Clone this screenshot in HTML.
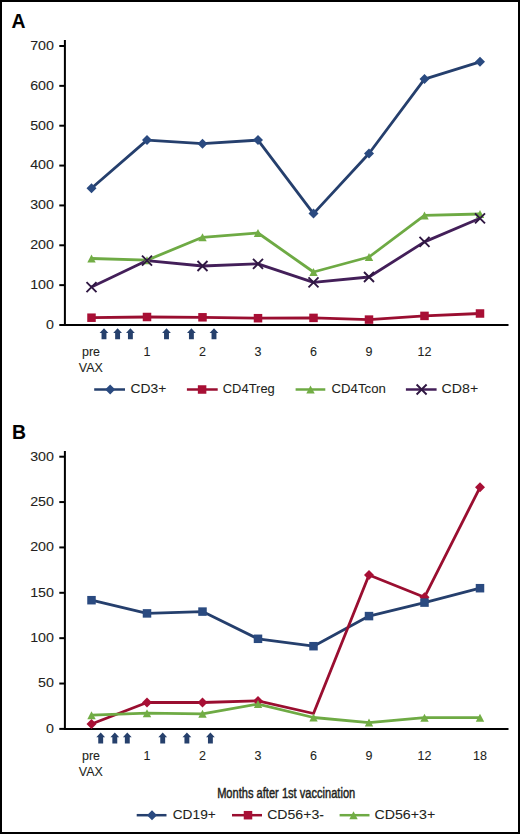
<!DOCTYPE html>
<html><head><meta charset="utf-8"><title>Figure</title>
<style>
html,body{margin:0;padding:0;background:#fff;}
body{width:520px;height:834px;overflow:hidden;}
.fig{position:relative;width:516px;height:830px;border:2px solid #000;background:#fff;}
svg{position:absolute;left:-2px;top:-2px;font-family:"Liberation Sans",sans-serif;fill:#231f20;}
text{stroke:#231f20;stroke-width:0.08px;}
.bold{stroke-width:0.5px;}
</style></head>
<body><div class="fig">
<svg width="520" height="834" viewBox="0 0 520 834">
<line x1="64.9" y1="40" x2="64.9" y2="326" stroke="#000" stroke-width="2"/>
<line x1="63.900000000000006" y1="325" x2="508.5" y2="325" stroke="#000" stroke-width="2"/>
<line x1="59.3" y1="325.00" x2="64.9" y2="325.00" stroke="#000" stroke-width="2"/>
<text transform="translate(53.90 328.85) scale(1.0800 1)" font-size="13.2" text-anchor="end" >0</text>
<line x1="59.3" y1="285.14" x2="64.9" y2="285.14" stroke="#000" stroke-width="2"/>
<text transform="translate(53.90 288.99) scale(1.0800 1)" font-size="13.2" text-anchor="end" >100</text>
<line x1="59.3" y1="245.29" x2="64.9" y2="245.29" stroke="#000" stroke-width="2"/>
<text transform="translate(53.90 249.14) scale(1.0800 1)" font-size="13.2" text-anchor="end" >200</text>
<line x1="59.3" y1="205.43" x2="64.9" y2="205.43" stroke="#000" stroke-width="2"/>
<text transform="translate(53.90 209.28) scale(1.0800 1)" font-size="13.2" text-anchor="end" >300</text>
<line x1="59.3" y1="165.57" x2="64.9" y2="165.57" stroke="#000" stroke-width="2"/>
<text transform="translate(53.90 169.42) scale(1.0800 1)" font-size="13.2" text-anchor="end" >400</text>
<line x1="59.3" y1="125.71" x2="64.9" y2="125.71" stroke="#000" stroke-width="2"/>
<text transform="translate(53.90 129.56) scale(1.0800 1)" font-size="13.2" text-anchor="end" >500</text>
<line x1="59.3" y1="85.86" x2="64.9" y2="85.86" stroke="#000" stroke-width="2"/>
<text transform="translate(53.90 89.71) scale(1.0800 1)" font-size="13.2" text-anchor="end" >600</text>
<line x1="59.3" y1="46.00" x2="64.9" y2="46.00" stroke="#000" stroke-width="2"/>
<text transform="translate(53.90 49.85) scale(1.0800 1)" font-size="13.2" text-anchor="end" >700</text>
<polyline points="91.50,188.20 147.00,140.10 202.50,143.70 258.00,140.10 313.50,213.60 369.00,153.50 424.50,79.10 480.00,61.80" fill="none" stroke="#253f6d" stroke-width="2.8" stroke-linejoin="round" stroke-linecap="butt"/>
<polyline points="91.50,317.70 147.00,317.00 202.50,317.30 258.00,318.20 313.50,317.90 369.00,319.60 424.50,315.90 480.00,313.50" fill="none" stroke="#9a0e30" stroke-width="2.8" stroke-linejoin="round" stroke-linecap="butt"/>
<polyline points="91.50,258.50 147.00,260.20 202.50,237.30 258.00,233.00 313.50,272.00 369.00,257.00 424.50,215.40 480.00,214.00" fill="none" stroke="#6eaa44" stroke-width="2.8" stroke-linejoin="round" stroke-linecap="butt"/>
<polyline points="91.50,287.10 147.00,260.60 202.50,266.00 258.00,263.80 313.50,282.30 369.00,277.00 424.50,241.90 480.00,218.30" fill="none" stroke="#431f59" stroke-width="2.8" stroke-linejoin="round" stroke-linecap="butt"/>
<path d="M91.50 183.20L96.50 188.20L91.50 193.20L86.50 188.20Z" fill="#2a4a80"/>
<path d="M147.00 135.10L152.00 140.10L147.00 145.10L142.00 140.10Z" fill="#2a4a80"/>
<path d="M202.50 138.70L207.50 143.70L202.50 148.70L197.50 143.70Z" fill="#2a4a80"/>
<path d="M258.00 135.10L263.00 140.10L258.00 145.10L253.00 140.10Z" fill="#2a4a80"/>
<path d="M313.50 208.60L318.50 213.60L313.50 218.60L308.50 213.60Z" fill="#2a4a80"/>
<path d="M369.00 148.50L374.00 153.50L369.00 158.50L364.00 153.50Z" fill="#2a4a80"/>
<path d="M424.50 74.10L429.50 79.10L424.50 84.10L419.50 79.10Z" fill="#2a4a80"/>
<path d="M480.00 56.80L485.00 61.80L480.00 66.80L475.00 61.80Z" fill="#2a4a80"/>
<rect x="87.25" y="313.45" width="8.5" height="8.5" fill="#a80f35"/>
<rect x="142.75" y="312.75" width="8.5" height="8.5" fill="#a80f35"/>
<rect x="198.25" y="313.05" width="8.5" height="8.5" fill="#a80f35"/>
<rect x="253.75" y="313.95" width="8.5" height="8.5" fill="#a80f35"/>
<rect x="309.25" y="313.65" width="8.5" height="8.5" fill="#a80f35"/>
<rect x="364.75" y="315.35" width="8.5" height="8.5" fill="#a80f35"/>
<rect x="420.25" y="311.65" width="8.5" height="8.5" fill="#a80f35"/>
<rect x="475.75" y="309.25" width="8.5" height="8.5" fill="#a80f35"/>
<path d="M91.50 254.50L95.70 262.50L87.30 262.50Z" fill="#72ad45"/>
<path d="M147.00 256.20L151.20 264.20L142.80 264.20Z" fill="#72ad45"/>
<path d="M202.50 233.30L206.70 241.30L198.30 241.30Z" fill="#72ad45"/>
<path d="M258.00 229.00L262.20 237.00L253.80 237.00Z" fill="#72ad45"/>
<path d="M313.50 268.00L317.70 276.00L309.30 276.00Z" fill="#72ad45"/>
<path d="M369.00 253.00L373.20 261.00L364.80 261.00Z" fill="#72ad45"/>
<path d="M424.50 211.40L428.70 219.40L420.30 219.40Z" fill="#72ad45"/>
<path d="M480.00 210.00L484.20 218.00L475.80 218.00Z" fill="#72ad45"/>
<path d="M86.50 282.10L96.50 292.10M96.50 282.10L86.50 292.10" stroke="#2f1742" stroke-width="1.9" fill="none"/>
<path d="M142.00 255.60L152.00 265.60M152.00 255.60L142.00 265.60" stroke="#2f1742" stroke-width="1.9" fill="none"/>
<path d="M197.50 261.00L207.50 271.00M207.50 261.00L197.50 271.00" stroke="#2f1742" stroke-width="1.9" fill="none"/>
<path d="M253.00 258.80L263.00 268.80M263.00 258.80L253.00 268.80" stroke="#2f1742" stroke-width="1.9" fill="none"/>
<path d="M308.50 277.30L318.50 287.30M318.50 277.30L308.50 287.30" stroke="#2f1742" stroke-width="1.9" fill="none"/>
<path d="M364.00 272.00L374.00 282.00M374.00 272.00L364.00 282.00" stroke="#2f1742" stroke-width="1.9" fill="none"/>
<path d="M419.50 236.90L429.50 246.90M429.50 236.90L419.50 246.90" stroke="#2f1742" stroke-width="1.9" fill="none"/>
<path d="M475.00 213.30L485.00 223.30M485.00 213.30L475.00 223.30" stroke="#2f1742" stroke-width="1.9" fill="none"/>
<path d="M104.00 328.20L108.40 332.90L106.45 332.90L106.45 339.20L101.55 339.20L101.55 332.90L99.60 332.90Z" fill="#26406c"/>
<path d="M117.60 328.20L122.00 332.90L120.05 332.90L120.05 339.20L115.15 339.20L115.15 332.90L113.20 332.90Z" fill="#26406c"/>
<path d="M130.40 328.20L134.80 332.90L132.85 332.90L132.85 339.20L127.95 339.20L127.95 332.90L126.00 332.90Z" fill="#26406c"/>
<path d="M166.50 328.20L170.90 332.90L168.95 332.90L168.95 339.20L164.05 339.20L164.05 332.90L162.10 332.90Z" fill="#26406c"/>
<path d="M191.40 328.20L195.80 332.90L193.85 332.90L193.85 339.20L188.95 339.20L188.95 332.90L187.00 332.90Z" fill="#26406c"/>
<path d="M214.00 328.20L218.40 332.90L216.45 332.90L216.45 339.20L211.55 339.20L211.55 332.90L209.60 332.90Z" fill="#26406c"/>
<text x="91.00" y="356.20" font-size="12.5" text-anchor="middle" >pre</text>
<text x="90.90" y="371.50" font-size="12.5" text-anchor="middle" >VAX</text>
<text x="147.00" y="356.20" font-size="12.5" text-anchor="middle" >1</text>
<text x="202.50" y="356.20" font-size="12.5" text-anchor="middle" >2</text>
<text x="258.00" y="356.20" font-size="12.5" text-anchor="middle" >3</text>
<text x="313.50" y="356.20" font-size="12.5" text-anchor="middle" >6</text>
<text x="369.00" y="356.20" font-size="12.5" text-anchor="middle" >9</text>
<text x="424.50" y="356.20" font-size="12.5" text-anchor="middle" >12</text>
<line x1="94.2" y1="389.5" x2="125" y2="389.5" stroke="#253f6d" stroke-width="2.5"/>
<path d="M110.20 384.50L115.20 389.50L110.20 394.50L105.20 389.50Z" fill="#2a4a80"/>
<text transform="translate(130.40 393.40) scale(1.0710 1)" font-size="13" text-anchor="start" >CD3+</text>
<line x1="186.9" y1="389.5" x2="217.7" y2="389.5" stroke="#9a0e30" stroke-width="2.5"/>
<rect x="197.85" y="385.25" width="8.5" height="8.5" fill="#a80f35"/>
<text transform="translate(222.75 393.40) scale(0.9967 1)" font-size="13" text-anchor="start" >CD4Treg</text>
<line x1="295.6" y1="389.5" x2="325.3" y2="389.5" stroke="#6eaa44" stroke-width="2.5"/>
<path d="M310.50 385.50L314.70 393.50L306.30 393.50Z" fill="#72ad45"/>
<text transform="translate(331.54 393.40) scale(1.0160 1)" font-size="13" text-anchor="start" >CD4Tcon</text>
<line x1="405.9" y1="389.5" x2="436.6" y2="389.5" stroke="#431f59" stroke-width="2.5"/>
<path d="M416.60 384.50L426.60 394.50M426.60 384.50L416.60 394.50" stroke="#2f1742" stroke-width="1.9" fill="none"/>
<text transform="translate(441.54 393.40) scale(1.0912 1)" font-size="13" text-anchor="start" >CD8+</text>
<line x1="64.9" y1="451" x2="64.9" y2="730" stroke="#000" stroke-width="2"/>
<line x1="63.900000000000006" y1="728.9" x2="508.5" y2="728.9" stroke="#000" stroke-width="2"/>
<line x1="59.3" y1="728.90" x2="64.9" y2="728.90" stroke="#000" stroke-width="2"/>
<text transform="translate(53.90 732.75) scale(1.0800 1)" font-size="13.2" text-anchor="end" >0</text>
<line x1="59.3" y1="683.53" x2="64.9" y2="683.53" stroke="#000" stroke-width="2"/>
<text transform="translate(53.90 687.38) scale(1.0800 1)" font-size="13.2" text-anchor="end" >50</text>
<line x1="59.3" y1="638.17" x2="64.9" y2="638.17" stroke="#000" stroke-width="2"/>
<text transform="translate(53.90 642.02) scale(1.0800 1)" font-size="13.2" text-anchor="end" >100</text>
<line x1="59.3" y1="592.80" x2="64.9" y2="592.80" stroke="#000" stroke-width="2"/>
<text transform="translate(53.90 596.65) scale(1.0800 1)" font-size="13.2" text-anchor="end" >150</text>
<line x1="59.3" y1="547.43" x2="64.9" y2="547.43" stroke="#000" stroke-width="2"/>
<text transform="translate(53.90 551.28) scale(1.0800 1)" font-size="13.2" text-anchor="end" >200</text>
<line x1="59.3" y1="502.07" x2="64.9" y2="502.07" stroke="#000" stroke-width="2"/>
<text transform="translate(53.90 505.92) scale(1.0800 1)" font-size="13.2" text-anchor="end" >250</text>
<line x1="59.3" y1="456.70" x2="64.9" y2="456.70" stroke="#000" stroke-width="2"/>
<text transform="translate(53.90 460.55) scale(1.0800 1)" font-size="13.2" text-anchor="end" >300</text>
<polyline points="91.50,600.20 147.00,613.40 202.50,611.60 258.00,638.80 313.50,646.20 369.00,616.10 424.50,602.60 480.00,588.20" fill="none" stroke="#253f6d" stroke-width="2.8" stroke-linejoin="round" stroke-linecap="butt"/>
<polyline points="91.50,724.00 147.00,702.50 202.50,702.50 258.00,700.90 313.50,713.50 369.00,575.00 424.50,597.20 480.00,487.30" fill="none" stroke="#9a0e30" stroke-width="2.8" stroke-linejoin="round" stroke-linecap="butt"/>
<polyline points="91.50,715.20 147.00,713.20 202.50,713.80 258.00,704.10 313.50,717.50 369.00,722.60 424.50,717.70 480.00,717.70" fill="none" stroke="#6eaa44" stroke-width="2.8" stroke-linejoin="round" stroke-linecap="butt"/>
<path d="M91.50 719.00L96.50 724.00L91.50 729.00L86.50 724.00Z" fill="#a80f35"/>
<path d="M147.00 697.50L152.00 702.50L147.00 707.50L142.00 702.50Z" fill="#a80f35"/>
<path d="M202.50 697.50L207.50 702.50L202.50 707.50L197.50 702.50Z" fill="#a80f35"/>
<path d="M258.00 695.90L263.00 700.90L258.00 705.90L253.00 700.90Z" fill="#a80f35"/>
<path d="M369.00 570.00L374.00 575.00L369.00 580.00L364.00 575.00Z" fill="#a80f35"/>
<path d="M424.50 592.20L429.50 597.20L424.50 602.20L419.50 597.20Z" fill="#a80f35"/>
<path d="M480.00 482.30L485.00 487.30L480.00 492.30L475.00 487.30Z" fill="#a80f35"/>
<path d="M91.50 711.20L95.70 719.20L87.30 719.20Z" fill="#72ad45"/>
<path d="M147.00 709.20L151.20 717.20L142.80 717.20Z" fill="#72ad45"/>
<path d="M202.50 709.80L206.70 717.80L198.30 717.80Z" fill="#72ad45"/>
<path d="M258.00 700.10L262.20 708.10L253.80 708.10Z" fill="#72ad45"/>
<path d="M313.50 713.50L317.70 721.50L309.30 721.50Z" fill="#72ad45"/>
<path d="M369.00 718.60L373.20 726.60L364.80 726.60Z" fill="#72ad45"/>
<path d="M424.50 713.70L428.70 721.70L420.30 721.70Z" fill="#72ad45"/>
<path d="M480.00 713.70L484.20 721.70L475.80 721.70Z" fill="#72ad45"/>
<rect x="87.25" y="595.95" width="8.5" height="8.5" fill="#2a4a80"/>
<rect x="142.75" y="609.15" width="8.5" height="8.5" fill="#2a4a80"/>
<rect x="198.25" y="607.35" width="8.5" height="8.5" fill="#2a4a80"/>
<rect x="253.75" y="634.55" width="8.5" height="8.5" fill="#2a4a80"/>
<rect x="309.25" y="641.95" width="8.5" height="8.5" fill="#2a4a80"/>
<rect x="364.75" y="611.85" width="8.5" height="8.5" fill="#2a4a80"/>
<rect x="420.25" y="598.35" width="8.5" height="8.5" fill="#2a4a80"/>
<rect x="475.75" y="583.95" width="8.5" height="8.5" fill="#2a4a80"/>
<path d="M100.70 732.60L105.10 737.30L103.15 737.30L103.15 743.60L98.25 743.60L98.25 737.30L96.30 737.30Z" fill="#26406c"/>
<path d="M114.80 732.60L119.20 737.30L117.25 737.30L117.25 743.60L112.35 743.60L112.35 737.30L110.40 737.30Z" fill="#26406c"/>
<path d="M127.30 732.60L131.70 737.30L129.75 737.30L129.75 743.60L124.85 743.60L124.85 737.30L122.90 737.30Z" fill="#26406c"/>
<path d="M162.70 732.60L167.10 737.30L165.15 737.30L165.15 743.60L160.25 743.60L160.25 737.30L158.30 737.30Z" fill="#26406c"/>
<path d="M186.90 732.60L191.30 737.30L189.35 737.30L189.35 743.60L184.45 743.60L184.45 737.30L182.50 737.30Z" fill="#26406c"/>
<path d="M210.40 732.60L214.80 737.30L212.85 737.30L212.85 743.60L207.95 743.60L207.95 737.30L206.00 737.30Z" fill="#26406c"/>
<text x="91.00" y="760.10" font-size="12.5" text-anchor="middle" >pre</text>
<text x="90.90" y="775.60" font-size="12.5" text-anchor="middle" >VAX</text>
<text x="147.00" y="760.10" font-size="12.5" text-anchor="middle" >1</text>
<text x="202.50" y="760.10" font-size="12.5" text-anchor="middle" >2</text>
<text x="258.00" y="760.10" font-size="12.5" text-anchor="middle" >3</text>
<text x="313.50" y="760.10" font-size="12.5" text-anchor="middle" >6</text>
<text x="369.00" y="760.10" font-size="12.5" text-anchor="middle" >9</text>
<text x="424.50" y="760.10" font-size="12.5" text-anchor="middle" >12</text>
<text x="480.00" y="760.10" font-size="12.5" text-anchor="middle" >18</text>
<text class="bold" x="286.2" y="797.7" font-size="15" text-anchor="middle" transform="translate(286.2 0) scale(0.74 1) translate(-286.2 0)">Months after 1st vaccination</text>
<line x1="136.7" y1="815.2" x2="166.5" y2="815.2" stroke="#253f6d" stroke-width="2.5"/>
<path d="M152.00 810.20L157.00 815.20L152.00 820.20L147.00 815.20Z" fill="#2a4a80"/>
<text transform="translate(172.71 819.10) scale(1.0568 1)" font-size="13" text-anchor="start" >CD19+</text>
<line x1="232" y1="815.2" x2="262" y2="815.2" stroke="#9a0e30" stroke-width="2.5"/>
<rect x="243.75" y="810.95" width="8.5" height="8.5" fill="#a80f35"/>
<text transform="translate(267.19 819.10) scale(1.0849 1)" font-size="13" text-anchor="start" >CD56+3-</text>
<line x1="339.6" y1="815.2" x2="369.5" y2="815.2" stroke="#6eaa44" stroke-width="2.5"/>
<path d="M353.50 811.20L357.70 819.20L349.30 819.20Z" fill="#72ad45"/>
<text transform="translate(374.39 819.10) scale(1.0943 1)" font-size="13" text-anchor="start" >CD56+3+</text>
<text x="11.6" y="28.4" font-size="19.4" font-weight="bold" fill="#000" stroke="#000" stroke-width="0.6">A</text>
<text x="12.1" y="439.1" font-size="19.4" font-weight="bold" fill="#000" stroke="#000" stroke-width="0.6">B</text>
</svg>
</div></body></html>
